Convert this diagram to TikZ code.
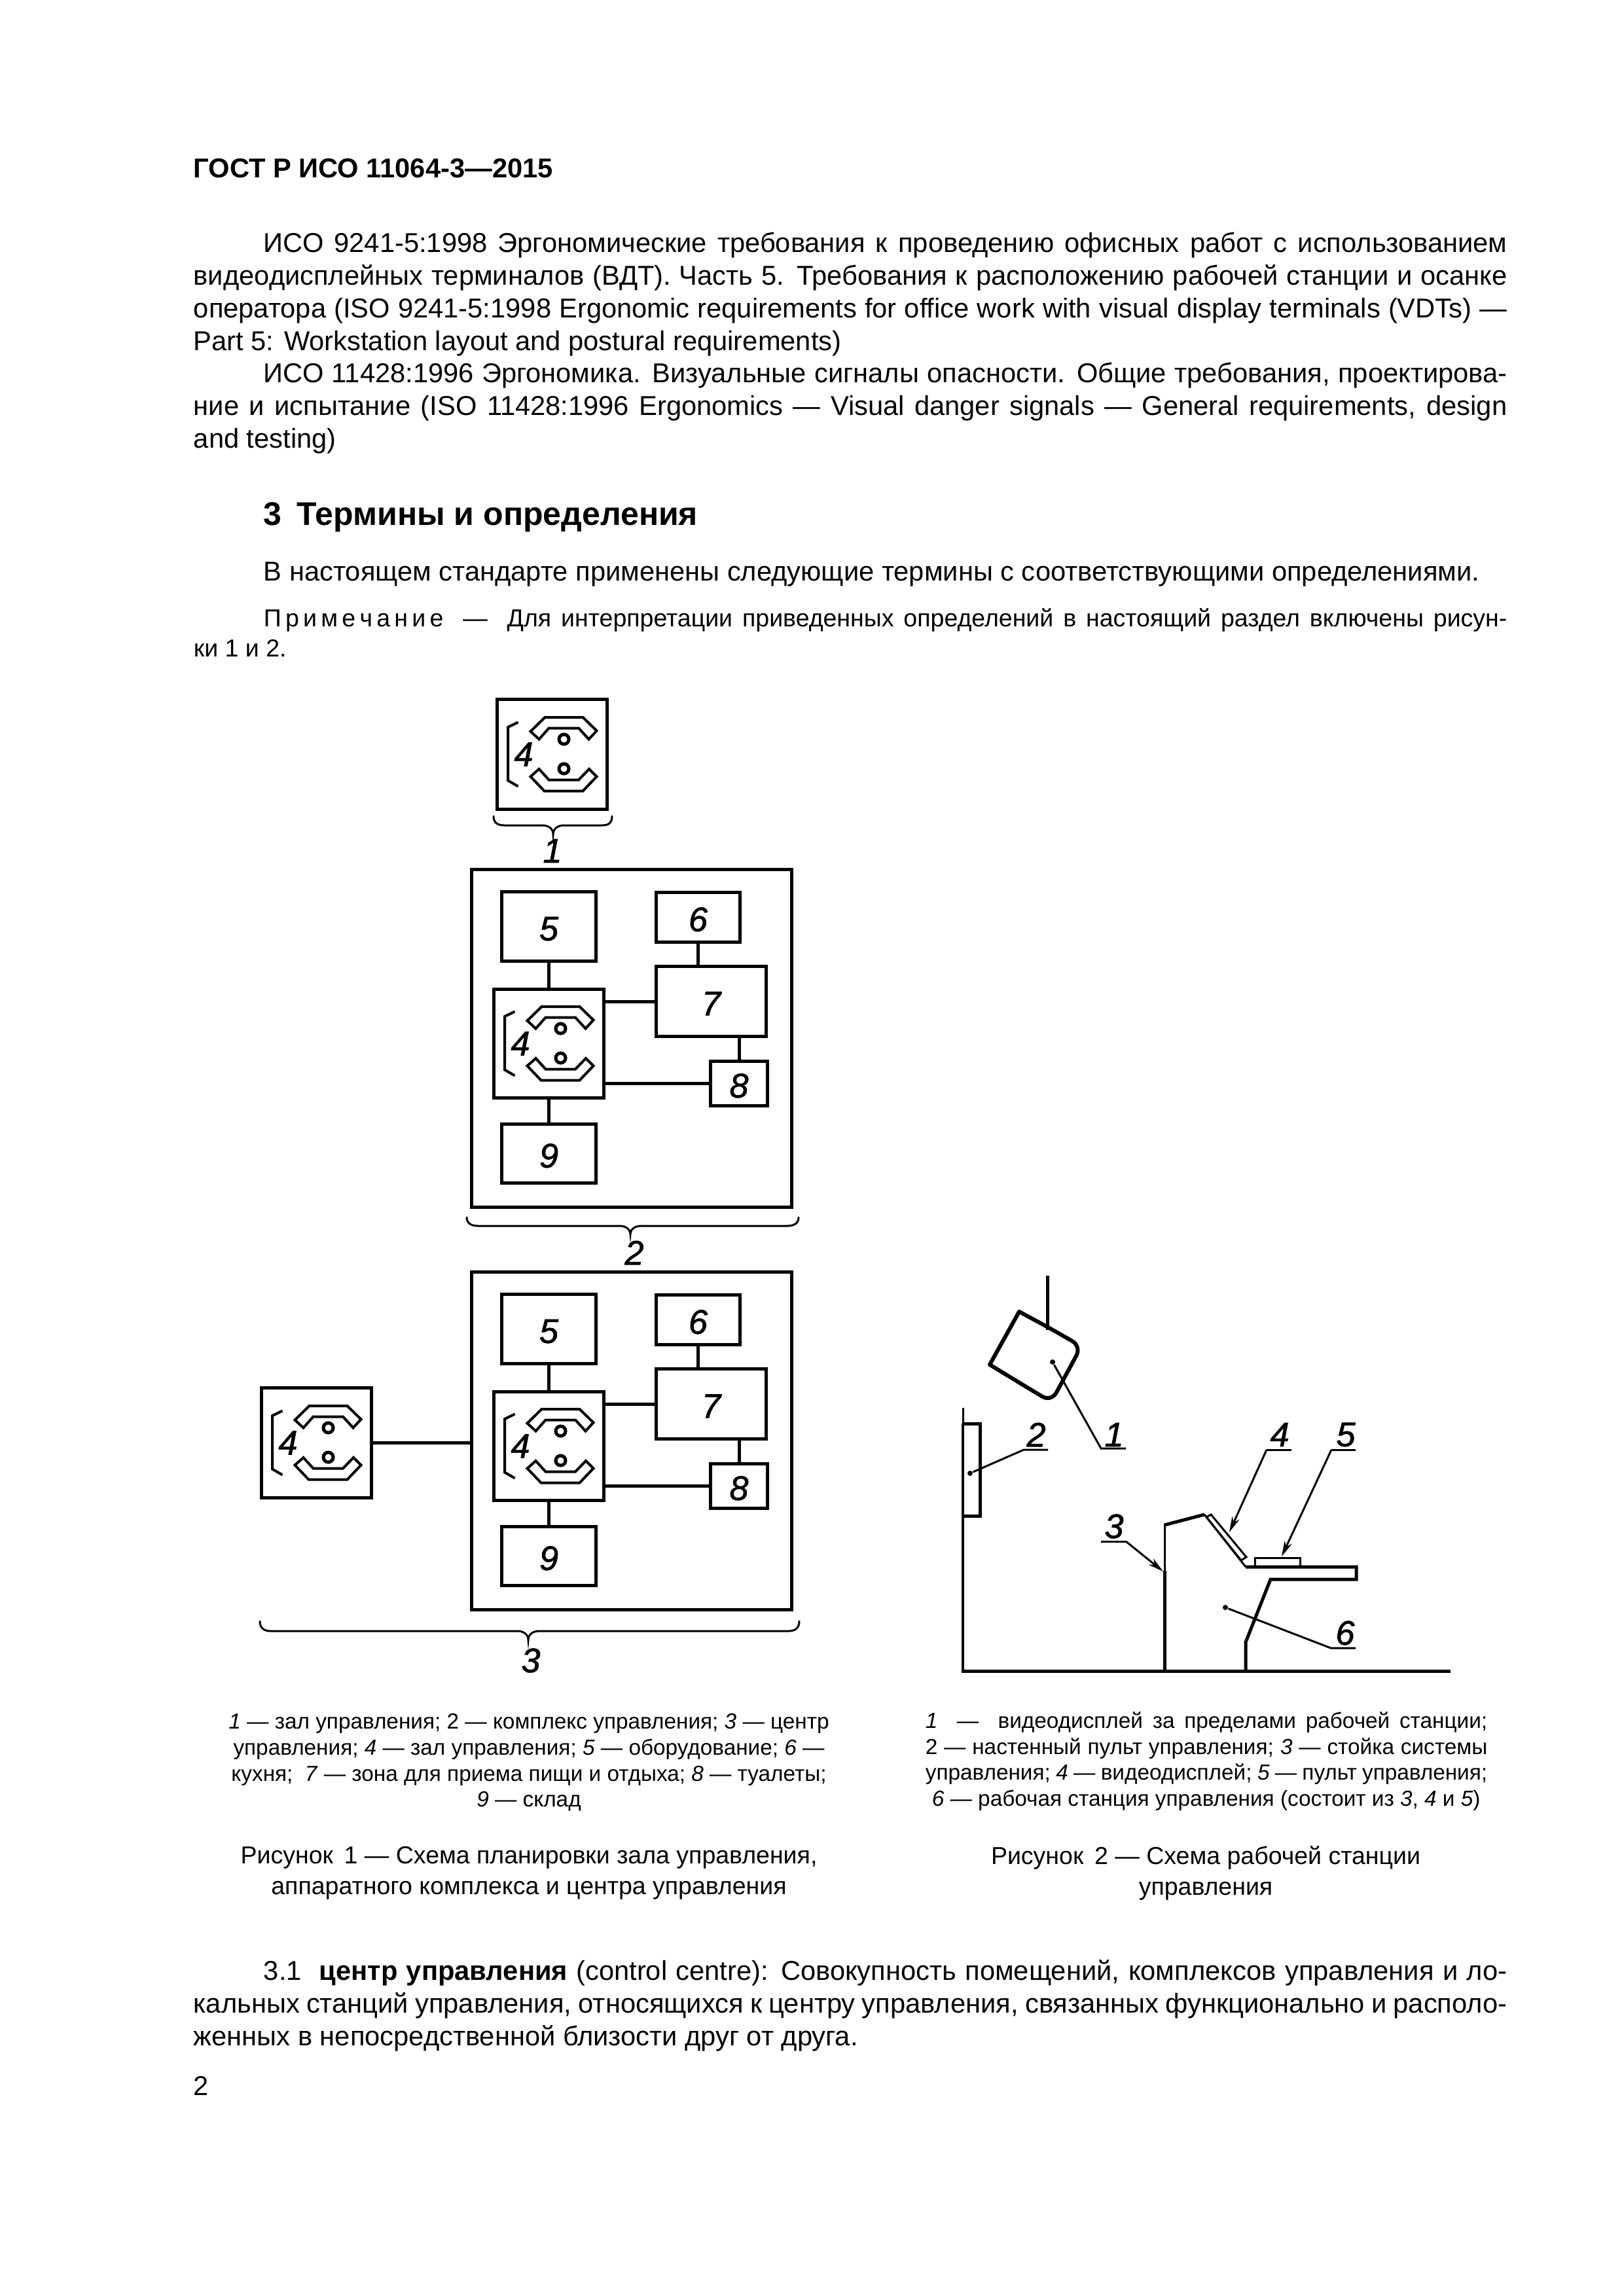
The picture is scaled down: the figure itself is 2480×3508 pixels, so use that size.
\documentclass[tikz,border=0pt]{standalone}
\usepackage{fontspec}
\setmainfont{Liberation Sans}
\newfontfamily\labfont[ItalicFont={Liberation Sans Italic},ItalicFeatures={FakeBold=1.5}]{Liberation Sans}
\usetikzlibrary{arrows.meta}
\def\uu{0.24pt}
\newcommand{\lab}{\labfont\fontsize{12.5}{14}\selectfont\itshape}
\newcommand{\bodyf}{\fontsize{10}{12}\selectfont}
\newcommand{\notef}{\fontsize{9}{11}\selectfont}
\newcommand{\capf}{\fontsize{8}{9.5}\selectfont}
\newcommand{\figf}{\fontsize{9}{11.4}\selectfont}
\newcommand{\ind}{\hspace*{25.7pt}}
\tikzset{
  thick line/.style={line width=5*\uu},
  mid line/.style={line width=4*\uu},
  thin line/.style={line width=3*\uu},
  room box/.style={draw,line width=5*\uu,inner sep=0pt,font=\lab,text height=10.2pt,text depth=0pt},
  number/.style={inner sep=0pt,font=\lab},
  para/.style={anchor=north west,inner sep=0pt,text width=481.6pt,align=justify,font=\bodyf},
  pointer/.style={thin line,-{Stealth[length=24*\uu,width=12*\uu]}},
  leader dot/.style={circle,fill=black,inner sep=0pt,minimum size=8*\uu},
  brace line/.style={line width=3*\uu,line cap=round},
  caption text/.style={inner sep=0pt,font=\capf,align=center},
  pics/consoleicon/.style={code={
    \draw[mid line] (-52,-49) -- (-67.5,-41.5) -- (-67.5,40) -- (-52,49);
    \draw[mid line] (-11,-56.5) -- (47,-56.5) -- (68,-36) -- (56,-23) -- (40.5,-40) -- (-5,-40) -- (-20,-23) -- (-33,-35) -- cycle;
    \draw[mid line] (-20,22.5) -- (-5,39) -- (40.5,39) -- (56.5,22.5) -- (68,34) -- (47,56) -- (-12,56) -- (-33,34) -- cycle;
    \draw[thick line] (18,-23) circle[radius=7.5];
    \draw[thick line] (18,22) circle[radius=7.5];
    \node[number] (-num) at (-43.5,0) {4};
  }},
  pics/complex/.style={code={
    \node[room box,minimum width=489*\uu,minimum height=516*\uu] (-outer) at (965,1586) {};
    \node[room box,minimum width=168*\uu,minimum height=166*\uu] (-b4) at (838.5,1594.5) {};
    \pic (-icon) at (838.5,1594.5) {consoleicon};
    \node[room box,minimum width=144*\uu,minimum height=106*\uu] (-b5) at (838.5,1415.5) {5};
    \node[room box,minimum width=128*\uu,minimum height=76*\uu] (-b6) at (1066.5,1401.5) {6};
    \node[room box,minimum width=168*\uu,minimum height=107*\uu] (-b7) at (1086.5,1530) {7};
    \node[room box,minimum width=87*\uu,minimum height=68*\uu] (-b8) at (1129,1655.5) {8};
    \node[room box,minimum width=144*\uu,minimum height=90*\uu] (-b9) at (838.5,1762.5) {9};
    \draw[thick line] (-b5) -- (-b4);
    \draw[thick line] (-b4) -- (-b9);
    \draw[thick line] (-b6.south) -- (-b7.north -| -b6.south);
    \draw[thick line] (-b7.south -| -b8.north) -- (-b8.north);
    \draw[thick line] (-b4.east |- -b7.west) -- (-b7.west);
    \draw[thick line] (-b4.east |- -b8.west) -- (-b8.west);
  }},
}
\begin{document}
\begin{tikzpicture}[x=0.24pt,y=-0.24pt]
\useasboundingbox (0,0) rectangle (2480,3508);
% page text
\node[anchor=west,inner sep=0pt,font=\bodyf\bfseries] (head) at (295,257) {ГОСТ Р ИСО 11064-3—2015};
\node[para] (p1) at (295,349.5) {\strut\ind ИСО 9241-5:1998 Эргономические требования к проведению офисных работ с использованием\linebreak
видеодисплейных терминалов (ВДТ). Часть 5. Требования к расположению рабочей станции и осанке\linebreak
оператора (ISO 9241-5:1998 Ergonomic requirements for office work with visual display terminals (VDTs)~—\linebreak
Part 5: Workstation layout and postural requirements)};
\node[para] (p2) at (295,549) {\strut\ind ИСО 11428:1996 Эргономика. Визуальные сигналы опасности. Общие требования, проектирова-\linebreak
ние и испытание (ISO 11428:1996 Ergonomics — Visual danger signals — General requirements, design\linebreak
and testing)};
\node[anchor=west,inner sep=0pt,font=\fontsize{12}{14}\selectfont\bfseries] (sec) at (402,790) {3\hspace{5.5pt}Термины и определения};
\node[anchor=west,inner sep=0pt,font=\bodyf] (intro) at (402,877) {В настоящем стандарте применены следующие термины с соответствующими определениями.};
\node[para,font=\notef] (note) at (295,925) {\strut\ind П\,р\,и\,м\,е\,ч\,а\,н\,и\,е\ \ — \ Для интерпретации приведенных определений в настоящий раздел включены рисун-\linebreak
ки 1 и 2.};
% figure 1, top
\node[room box,minimum width=168*\uu,minimum height=168*\uu] (solo) at (843.5,1152.5) {};
\pic (soloicon) at (843.5,1152.5) {consoleicon};
\coordinate (b1a) at (754,1247); \coordinate (b1b) at (935,1247); \coordinate (b1m) at (845,1275);
\draw[brace line] (b1a) .. controls (754,1257) and (760,1261) .. (770,1261) -- (828,1261) .. controls (838,1261) and (845,1266) .. (b1m) .. controls (845,1266) and (852,1261) .. (862,1261) -- (920,1261) .. controls (930,1261) and (935,1257) .. (b1b);
\node[number] (n1) at (844,1300) {1};
\pic (cA) at (0,0) {complex};
\coordinate (b2a) at (713,1860); \coordinate (b2b) at (1220,1860); \coordinate (b2m) at (963,1886);
\draw[brace line] (b2a) .. controls (713,1869) and (720,1873) .. (730,1873) -- (946,1873) .. controls (956,1873) and (963,1878) .. (b2m) .. controls (963,1878) and (970,1873) .. (980,1873) -- (1203,1873) .. controls (1213,1873) and (1220,1869) .. (b2b);
\node[number] (n2) at (969,1914) {2};
% figure 1, bottom
\pic (cB) at (0,615) {complex};
\node[room box,minimum width=168*\uu,minimum height=168*\uu] (left) at (483.5,2204.5) {};
\pic (lefticon) at (483.5,2204.5) {consoleicon};
\draw[thick line] (left.east) -- (left.east -| cB-outer.west);
\coordinate (b3a) at (397,2477); \coordinate (b3b) at (1221,2477); \coordinate (b3m) at (807,2506);
\draw[brace line] (b3a) .. controls (397,2487) and (403,2492) .. (413,2492) -- (790,2492) .. controls (800,2492) and (807,2497) .. (b3m) .. controls (807,2497) and (814,2492) .. (824,2492) -- (1205,2492) .. controls (1215,2492) and (1221,2487) .. (b3b);
\node[number] (n3) at (811,2537) {3};
% figure 2
\coordinate (hang) at (1600,1949);
\coordinate (hangb) at (1600,2032);
\draw[thick line] (hang) -- (hangb);
\draw[line width=6*\uu,line join=round] (1557,2004) -- (1512,2085) -- (1558,2113) [rounded corners=3.8pt] -- (1606,2142) -- (1652,2057) -- (1605,2030) [sharp corners] -- cycle;
\draw[thin line] (1471,2151) -- (1471,2175);
\draw[thick line] (1471,2175) -- (1497,2175) -- (1497,2316) -- (1471,2316);
\coordinate (wallt) at (1471,2175);
\draw[line width=4*\uu] (wallt) -- (1471,2553);
\coordinate (fl) at (1469,2553); \coordinate (fr) at (2216,2553);
\draw[line width=5*\uu] (fl) -- (fr);
\coordinate (c3) at (1779,2400);
\draw[line width=3*\uu] (c3) -- (1779,2328);
\draw[line width=5*\uu,line join=miter] (1779,2330) -- (1840,2314);
\draw[line width=3*\uu] (1840,2314) -- (1903,2394);
\draw[line width=5*\uu] (c3) -- (1779,2553);
\draw[line width=5*\uu] (1903,2394) -- (2072,2394) -- (2072,2413) -- (1941,2413) -- (1903,2509) -- (1903,2553);
\draw[thin line] (1850,2314) -- (1904,2379) -- (1896,2384) -- (1843,2318) -- cycle;
\draw[thin line] (1917,2394) -- (1917,2380) -- (1986,2380) -- (1986,2394);
% leaders
\node[leader dot] (d1) at (1608,2081) {};
\node[leader dot] (d2) at (1482,2251) {};
\node[leader dot] (d6) at (1872,2456) {};
\coordinate (l1a) at (1682,2213); \coordinate (l1b) at (1720,2213);
\coordinate (l2a) at (1564,2215); \coordinate (l2b) at (1601,2215);
\coordinate (l3a) at (1720,2355); \coordinate (l3b) at (1682,2355); \coordinate (a3) at (1777,2401);
\coordinate (l4a) at (1935,2215); \coordinate (l4b) at (1973,2215); \coordinate (a4) at (1878,2341);
\coordinate (l5a) at (2034,2215); \coordinate (l5b) at (2071,2215); \coordinate (a5) at (1958,2378);
\coordinate (l6a) at (2033,2518); \coordinate (l6b) at (2071,2518);
\draw[thin line] (d1) -- (l1a) -- (l1b);
\draw[thin line] (d2) -- (l2a) -- (l2b);
\draw[thin line] (d6) -- (l6a) -- (l6b);
\draw[thin line] (l3b) -- (l3a);
\draw[pointer] (l3a) -- (a3);
\draw[thin line] (l4b) -- (l4a);
\draw[pointer] (l4a) -- (a4);
\draw[thin line] (l5b) -- (l5a);
\draw[pointer] (l5a) -- (a5);
\node[number] (f1) at (1702,2192) {1};
\node[number] (f2) at (1583,2192) {2};
\node[number] (f3) at (1702,2332) {3};
\node[number] (f4) at (1955,2192) {4};
\node[number] (f5) at (2056,2192) {5};
\node[number] (f6) at (2055,2495) {6};
% captions
\node[caption text] (cap1) at (808,2693) {\textit{1} — зал управления; 2 — комплекс управления; \textit{3} — центр\\ управления; \textit{4} — зал управления; \textit{5} — оборудование; \textit{6} —\\ кухня;\ \ \textit{7} — зона для приема пищи и отдыха; \textit{8} — туалеты;\\ \textit{9} — склад};
\node[caption text,text width=206pt,align=justify,anchor=north west] (cap2) at (1413,2612) {\strut\textit{1} \ — \ видеодисплей за пределами рабочей станции;\linebreak 2 — настенный пульт управления; \textit{3} — стойка системы\linebreak управления; \textit{4} — видеодисплей; \textit{5} — пульт управления;\linebreak \hspace*{2.4pt}\textit{6} — рабочая станция управления (состоит из \textit{3}, \textit{4} и \textit{5})};
\node[caption text,font=\figf] (fig1) at (808,2862) {Рисунок\, 1 — Схема планировки зала управления,\\ аппаратного комплекса и центра управления};
\node[caption text,font=\figf] (fig2) at (1842,2862) {Рисунок\, 2 — Схема рабочей станции\\ управления};
\node[para] (p3) at (295,2990) {\strut\ind 3.1 \ \textbf{центр управления} (control centre): Совокупность помещений, комплексов управления и ло-\linebreak
кальных станций управления, относящихся к центру управления, связанных функционально и располо-\linebreak
женных в непосредственной близости друг от друга.};
\node[anchor=west,inner sep=0pt,font=\bodyf] (pg) at (295,3187) {2};
\end{tikzpicture}
\end{document}
